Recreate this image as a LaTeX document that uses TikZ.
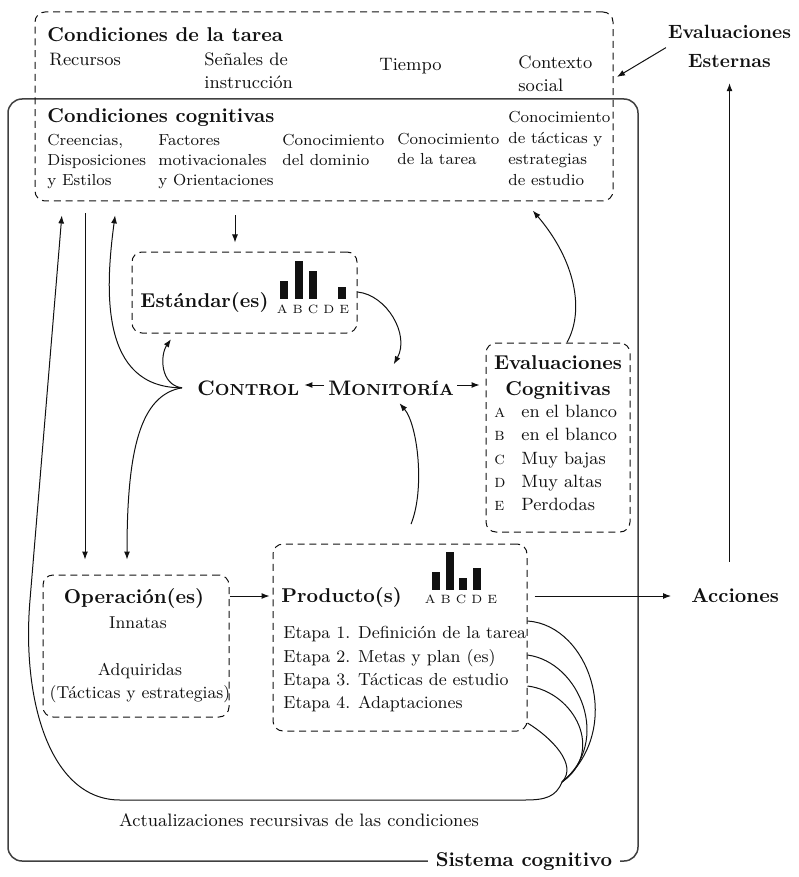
\documentclass[tikz,border=0pt]{standalone}
\usepackage{xcolor}
\usetikzlibrary{arrows.meta,positioning,calc}
\definecolor{Tinta}{HTML}{111111}
\definecolor{Marco}{HTML}{404040}
\newcommand{\versal}[2]{{\fontsize{10.5}{12}\selectfont #1}{\fontsize{8}{10}\selectfont #2}}
\newcommand{\letra}[1]{\makebox[13.5pt][l]{\textsc{#1}}}
\tikzset{caja/.style={rectangle,draw=Tinta,line width=0.5pt,dash pattern=on 3.5pt off 2.4pt,rounded corners=5pt,inner sep=0pt},sistema/.style={rectangle,draw=Marco,line width=0.75pt,rounded corners=7pt,inner sep=0pt},titulo/.style={font=\fontsize{10}{12}\selectfont\bfseries,text=Tinta,inner sep=0pt},texto/.style={font=\fontsize{9}{11.5}\selectfont,text=Tinta,inner sep=0pt,align=left},item/.style={font=\fontsize{8}{10}\selectfont,text=Tinta,inner sep=0pt,align=left,anchor=north west},flecha/.style={draw=Tinta,line width=0.5pt,-{Latex[length=4pt,width=3pt]}},enlace/.style={draw=Tinta,line width=0.5pt},barra/.style={fill=Tinta},letras/.style={font=\fontsize{6}{7}\selectfont,text=Tinta,inner sep=0pt,anchor=base}}
\begin{document}
\begin{tikzpicture}[x=0.5pt,y=-0.5pt]
\useasboundingbox (0,0) rectangle (798,877);
\node[sistema,minimum width=315pt,minimum height=381pt] (Sistema) at (323,480) {};
\node[caja,minimum width=289pt,minimum height=94.5pt] (Tarea) at (324,106.5) {};\node[caja,minimum width=112.5pt,minimum height=40.5pt] (Est) at (244.5,292.5) {};\node[caja,minimum width=72pt,minimum height=94.5pt] (EvalC) at (558,437.5) {};\node[caja,minimum width=93pt,minimum height=71pt] (Oper) at (136,646) {};\node[caja,minimum width=127pt,minimum height=93.5pt] (Prod) at (400,637.5) {};
\node[titulo,anchor=base west] (TareaT) at (47,42) {Condiciones de la tarea};\node[texto,anchor=base west] (Recursos) at (49,66) {Recursos};\node[texto,anchor=north west] (Senales) at (204,52.4) {Señales de\\instrucción};\node[texto,anchor=base west] (Tiempo) at (379,71) {Tiempo};\node[texto,anchor=north west] (Contexto) at (518,55.4) {Contexto\\social};
\node[titulo,anchor=base west] (CogT) at (47,123) {Condiciones cognitivas};\node[item] (Creencias) at (47,134) {Creencias,\\Disposiciones\\y Estilos};\node[item] (Factores) at (158,134) {Factores\\motivacionales\\y Orientaciones};\node[item] (Dominio) at (282,134) {Conocimiento\\del dominio};\node[item] (TareaC) at (397,133) {Conocimiento\\de la tarea};\node[item,font=\fontsize{8}{10.5}\selectfont] (Tacticas) at (508,111) {Conocimiento\\de tácticas y\\estrategias\\de estudio};
\node[titulo,anchor=base west] (EstT) at (140,307) {Estándar(es)};\foreach \i/\h in {0/18,1/38,2/28,4/12} \fill[barra] (280+14.5*\i,299) rectangle ++(8,-\h);\node[letras] (EstL) at (313,313) {A B C D E};
\node[titulo,anchor=base west] (Control) at (197,395) {\versal{C}{ONTROL}};\node[titulo,anchor=base west] (Monitoria) at (328,395) {\versal{M}{ONITORÍA}};
\node[titulo,anchor=north,align=center,font=\fontsize{10}{13}\selectfont\bfseries] (EvalCT) at (558,355) {Evaluaciones\\Cognitivas};\node[texto,anchor=north west,font=\fontsize{8.9}{11.7}\selectfont] (EvalCL) at (494,404.5) {\letra{a}en el blanco\\\letra{b}en el blanco\\\letra{c}Muy bajas\\\letra{d}Muy altas\\\letra{e}Perdodas};
\node[titulo,anchor=base] (OperT) at (134,603) {Operación(es)};\node[texto,font=\fontsize{8.6}{11.5}\selectfont,anchor=base] (Innatas) at (138,628) {Innatas};\node[texto,font=\fontsize{8.6}{11.5}\selectfont,anchor=north,align=center] (Adq) at (140,663) {Adquiridas\\(Tácticas y estrategias)};
\node[titulo,anchor=base west] (ProdT) at (281,602) {Producto(s)};\foreach \i/\h in {0/18,1/38,2/12,3/22} \fill[barra] (432+13.7*\i,590) rectangle ++(8,-\h);\node[letras] (ProdL) at (461,603) {A B C D E};\node[texto,font=\fontsize{8.7}{11.7}\selectfont,anchor=north west] (Etapas) at (283,626) {Etapa 1. Definición de la tarea\\Etapa 2. Metas y plan (es)\\Etapa 3. Tácticas de estudio\\Etapa 4. Adaptaciones};
\node[titulo,anchor=base west] (Acciones) at (691,602) {Acciones};\node[titulo,anchor=north,align=center,font=\fontsize{9.6}{14.5}\selectfont\bfseries] (EvalE) at (729.5,25) {Evaluaciones\\Esternas};
\node[texto,anchor=base] (Actual) at (299,826) {Actualizaciones recursivas de las condiciones};\node[titulo,fill=white,inner xsep=4pt,inner ysep=1pt] (SistemaT) at (524,862) {Sistema cognitivo};
\draw[flecha,shorten <=1pt,shorten >=2pt] (EvalE.west) -- (Tarea.east |- 0,79);\draw[flecha,shorten <=13pt,shorten >=7.5pt] (Acciones.north -| EvalE.south) -- (EvalE.south);
\draw[flecha,shorten <=3.5pt,shorten >=10pt] (Prod.east |- 0,596) -- (Acciones.west |- 0,596);\draw[flecha,shorten >=1.5pt] (Oper.east |- 0,596) -- (Prod.west |- 0,596);
\draw[flecha,shorten <=2pt,shorten >=2.5pt] (Monitoria.west |- 0,385) -- (Control.east |- 0,385);\draw[flecha,shorten <=1.5pt,shorten >=3pt] (Monitoria.east |- 0,385) -- (EvalC.west |- 0,385);
\draw[flecha,shorten <=7pt,shorten >=4.5pt] (235,0 |- Tarea.south) -- (235,0 |- Est.north);\draw[flecha,shorten <=6pt,shorten >=7.5pt] (85,0 |- Tarea.south) -- (85,0 |- Oper.north);
\draw[flecha,shorten >=9pt] (Est.east |- 0,292) .. controls (387,295) and (410,335) .. (385,0 |- Monitoria.north);\draw[flecha,shorten <=10.5pt,shorten >=5pt] (403,0 |- Prod.north) .. controls (425,490) and (418,425) .. (393,0 |- Monitoria.south);
\draw[flecha,shorten >=6pt] (567,0 |- EvalC.north) .. controls (585,310) and (575,260) .. (525,0 |- Tarea.south);
\coordinate (Bif) at ([xshift=-7.5pt]Control.west);
\draw[flecha,shorten >=7pt] (Bif) .. controls (100,388) and (105,290) .. (117,0 |- Tarea.south);\draw[flecha,shorten >=3.5pt] (Bif) .. controls (160,385) and (160,355) .. (175,0 |- Est.south);\draw[flecha,shorten >=7.5pt] (Bif) .. controls (140,395) and (127,450) .. (127,0 |- Oper.north);
\coordinate (Retorno) at (562,782);
\foreach \y/\p/\q/\r/\s in {621/590/625/625/730,655/580/662/612/742,686/575/692/605/752,723/552/738/578/765} \draw[enlace] (Prod.east |- 0,\y) .. controls (\p,\q) and (\r,\s) .. (Retorno);
\draw[flecha,shorten >=7pt] (Retorno) .. controls (556,797) and (545,800) .. (525,800) -- (120,800) .. controls (50,800) and (21.5,700) .. (30,600) -- (63,0 |- Tarea.south);
\end{tikzpicture}
\end{document}
